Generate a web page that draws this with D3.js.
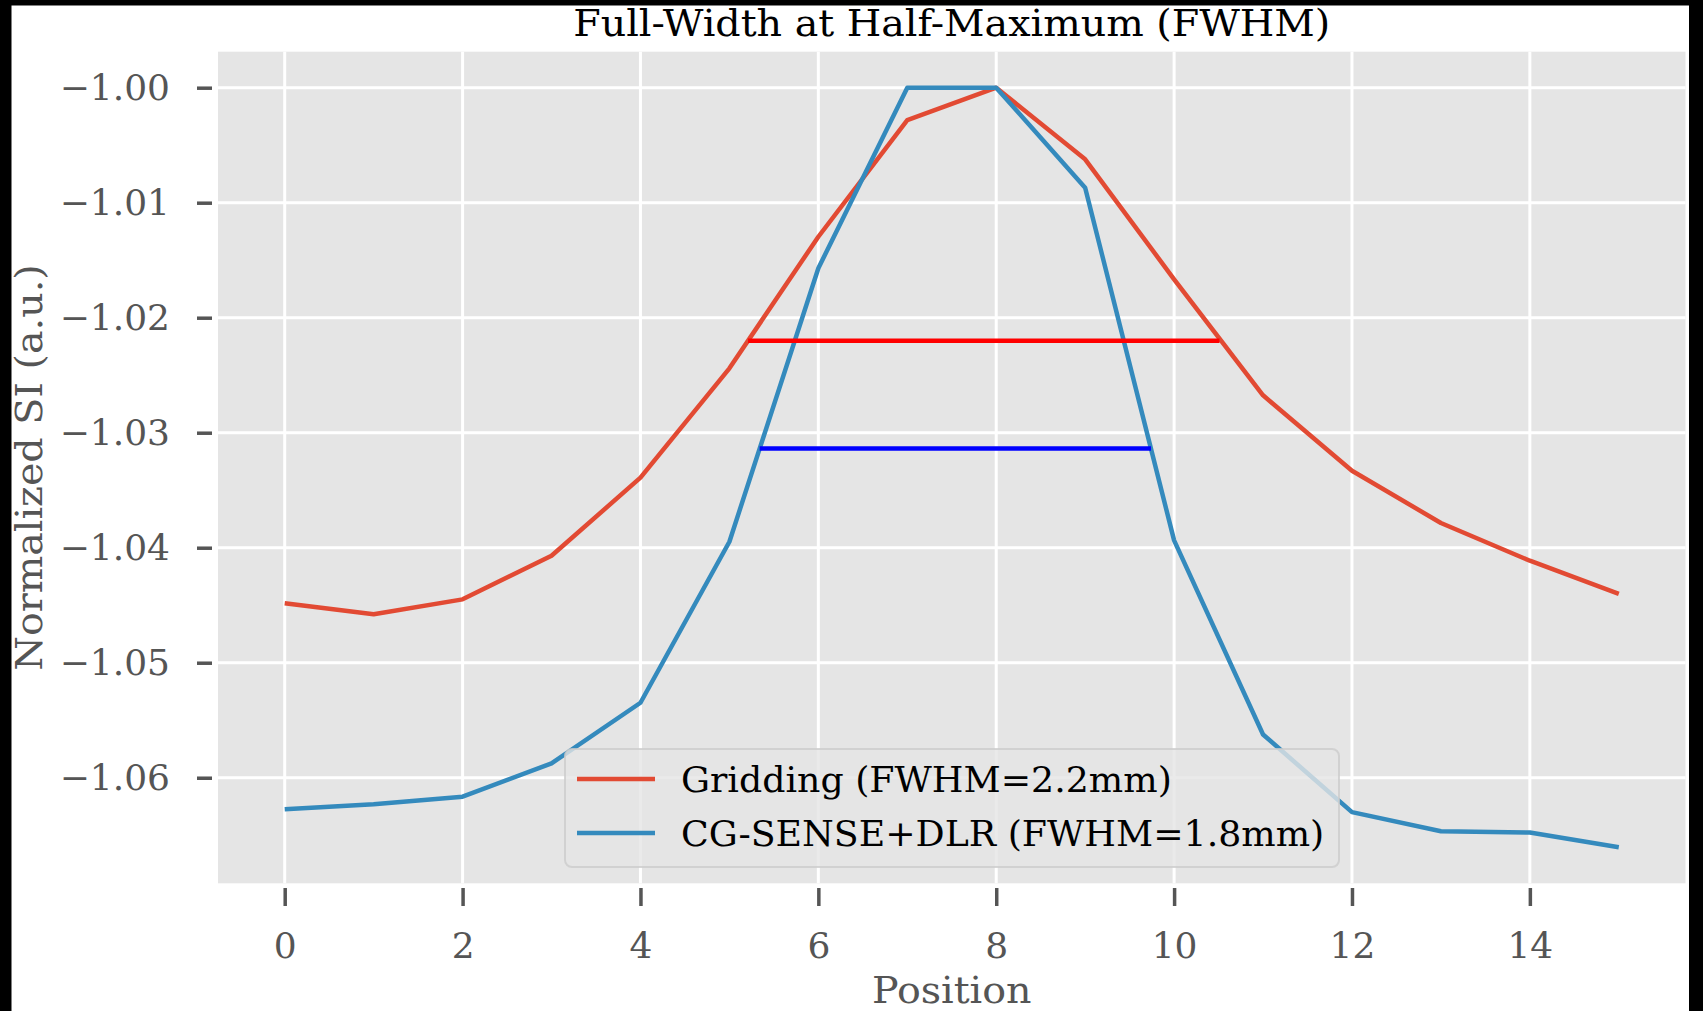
<!DOCTYPE html>
<html>
<head>
<meta charset="utf-8">
<script src="https://cdn.jsdelivr.net/npm/d3@7"></script>
<style>
  html, body { margin: 0; padding: 0; background: #000; }
  svg { display: block; }
  text { font-family: "DejaVu Serif", serif; }
</style>
</head>
<body>
<svg id="chart" width="1703" height="1011"></svg>
<script>
// Sample positions along the profile
const positions = [0, 1, 2, 3, 4, 5, 6, 7, 8, 9, 10, 11, 12, 13, 14, 15];

// Normalized signal intensity, gridding reconstruction
const gridding = [-1.04483, -1.04579, -1.04449, -1.04070, -1.03391, -1.02440, -1.01296, -1.00281,
                  -1.00000, -1.00623, -1.01666, -1.02675, -1.03331, -1.03785, -1.04113, -1.04402];

// Normalized signal intensity, CG-SENSE + DLR reconstruction
const cgSense = [-1.06275, -1.06231, -1.06165, -1.05875, -1.05348, -1.03948, -1.01570, -1.00000,
                 -1.00000, -1.00870, -1.03936, -1.05624, -1.06299, -1.06466, -1.06476, -1.06605];

// Half-maximum segments: [start, end, level]
const griddingHalf = [5.21, 10.51, -1.02200];
const cgSenseHalf  = [5.34, 9.74, -1.03138];

const seriesNames = ["Gridding (FWHM=2.2mm)", "CG-SENSE+DLR (FWHM=1.8mm)"];
const xTicks = [0, 2, 4, 6, 8, 10, 12, 14];
const yTicks = [-1.06, -1.05, -1.04, -1.03, -1.02, -1.01, -1.00];

const titleText = "Full-Width at Half-Maximum (FWHM)";
const xLabel = "Position";
const yLabel = "Normalized SI (a.u.)";

const svg = d3.select("#chart");

// white figure canvas inside the dark frame
svg.append("rect")
  .attr("x", 11.5).attr("y", 5.5)
  .attr("width", 1689 - 11.5).attr("height", 1011 - 5.5)
  .attr("fill", "#ffffff");

const plot = { left: 218, right: 1685.5, top: 51.7, bottom: 883.3 };

const x = d3.scaleLinear().domain([-0.75, 15.75]).range([plot.left, plot.right]);
const y = d3.scaleLinear().domain([-1.06918, -0.99687]).range([plot.bottom, plot.top]);

// panel background
svg.append("rect")
  .attr("x", plot.left).attr("y", plot.top)
  .attr("width", plot.right - plot.left).attr("height", plot.bottom - plot.top)
  .attr("fill", "#E5E5E5");

// grid
const grid = svg.append("g").attr("stroke", "#ffffff").attr("stroke-width", 3);
grid.selectAll("line.v").data(xTicks).join("line")
  .attr("class", "v")
  .attr("x1", d => x(d)).attr("x2", d => x(d))
  .attr("y1", plot.top).attr("y2", plot.bottom);
grid.selectAll("line.h").data(yTicks).join("line")
  .attr("class", "h")
  .attr("x1", plot.left).attr("x2", plot.right)
  .attr("y1", d => y(d)).attr("y2", d => y(d));

// axes
const fmt = d => d3.format(".2f")(d).replace("-", "\u2212");

const yAxis = svg.append("g")
  .attr("transform", `translate(${plot.left - 6},0)`)
  .call(d3.axisLeft(y).tickValues(yTicks).tickFormat(fmt).tickSize(15).tickPadding(27));

const xAxis = svg.append("g")
  .attr("transform", `translate(0,${plot.bottom + 4.7})`)
  .call(d3.axisBottom(x).tickValues(xTicks).tickFormat(d3.format("d")).tickSize(18).tickPadding(26));

[xAxis, yAxis].forEach(g => {
  g.select(".domain").remove();
  g.selectAll(".tick line").attr("stroke", "#555555").attr("stroke-width", 3.5);
  g.selectAll(".tick text")
    .attr("fill", "#555555")
    .style("font-family", "'DejaVu Serif', serif")
    .style("font-size", "36px");
});

// profiles
const line = d3.line().x((d, i) => x(positions[i])).y(d => y(d));

svg.append("path").datum(gridding)
  .attr("d", line).attr("fill", "none")
  .attr("stroke", "#E24A33").attr("stroke-width", 4.5).attr("stroke-linejoin", "round");

svg.append("path").datum(cgSense)
  .attr("d", line).attr("fill", "none")
  .attr("stroke", "#348ABD").attr("stroke-width", 4.5).attr("stroke-linejoin", "round");

// half-maximum widths
[[griddingHalf, "#FF0000"], [cgSenseHalf, "#0000FF"]].forEach(([h, c]) => {
  svg.append("line")
    .attr("x1", x(h[0])).attr("x2", x(h[1]))
    .attr("y1", y(h[2])).attr("y2", y(h[2]))
    .attr("stroke", c).attr("stroke-width", 4.5);
});

// title and axis labels (slightly widened lettering)
const cx = (plot.left + plot.right) / 2;
svg.append("text")
  .attr("transform", `translate(${cx},36) scale(1.07,1)`)
  .attr("text-anchor", "middle")
  .attr("fill", "#000000")
  .style("font-size", "37px")
  .text(titleText);

svg.append("text")
  .attr("transform", `translate(${cx},1003) scale(1.07,1)`)
  .attr("text-anchor", "middle")
  .attr("fill", "#555555")
  .style("font-size", "37px")
  .text(xLabel);

svg.append("text")
  .attr("transform", `translate(42,${(plot.top + plot.bottom) / 2}) rotate(-90) scale(1.07,1)`)
  .attr("text-anchor", "middle")
  .attr("fill", "#555555")
  .style("font-size", "37px")
  .text(yLabel);

// legend
const legend = svg.append("g");
legend.append("rect")
  .attr("x", 565).attr("y", 749)
  .attr("width", 1339 - 565).attr("height", 867 - 749)
  .attr("rx", 7).attr("ry", 7)
  .attr("fill", "#E5E5E5").attr("fill-opacity", 0.8)
  .attr("stroke", "#CCCCCC").attr("stroke-opacity", 0.8).attr("stroke-width", 2);

const legendColors = ["#E24A33", "#348ABD"];
seriesNames.forEach((name, i) => {
  const cy = 779 + i * 54;
  legend.append("line")
    .attr("x1", 577).attr("x2", 655)
    .attr("y1", cy).attr("y2", cy)
    .attr("stroke", legendColors[i]).attr("stroke-width", 4.5);
  legend.append("text")
    .attr("x", 681).attr("y", cy + 13)
    .attr("fill", "#000000")
    .style("font-size", "36.3px")
    .text(name);
});
</script>
</body>
</html>
